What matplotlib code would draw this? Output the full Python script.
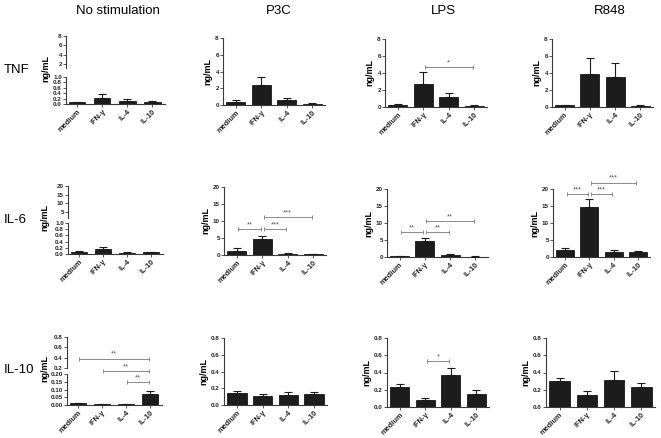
import numpy as np
import matplotlib
matplotlib.use("Agg")
import matplotlib.pyplot as plt

plt.rcParams["font.family"] = ["Liberation Sans", "DejaVu Sans"]

categories = ["medium", "IFN-γ", "IL-4", "IL-10"]
stimuli = ["No stimulation", "P3C", "LPS", "R848"]
cytokines = ["TNF", "IL-6", "IL-10"]

# mean (ng/mL) and upper SEM, one list per stimulation
tnf_mean = [[0.06, 0.22, 0.12, 0.08], [0.40, 2.36, 0.60, 0.16],
            [0.28, 2.65, 1.15, 0.16], [0.20, 3.86, 3.54, 0.12]]
tnf_err = [[0.02, 0.14, 0.06, 0.04], [0.20, 1.04, 0.20, 0.08],
           [0.08, 1.50, 0.47, 0.08], [0.08, 1.90, 1.58, 0.08]]

il6_mean = [[0.08, 0.16, 0.04, 0.05], [1.27, 4.70, 0.40, 0.30],
            [0.30, 4.60, 0.60, 0.10], [2.06, 14.6, 1.57, 1.47]]
il6_err = [[0.02, 0.05, 0.01, 0.01], [0.70, 1.00, 0.20, 0.10],
           [0.10, 1.10, 0.20, 0.10], [0.70, 2.40, 0.40, 0.20]]

il10_mean = [[0.011, 0.006, 0.006, 0.069], [0.142, 0.102, 0.114, 0.130],
             [0.234, 0.078, 0.367, 0.156], [0.300, 0.140, 0.316, 0.227]]
il10_err = [[0.004, 0.002, 0.002, 0.023], [0.024, 0.028, 0.036, 0.020],
            [0.032, 0.022, 0.090, 0.039], [0.040, 0.047, 0.098, 0.053]]

# significance brackets: (row, col, from, to, height, stars)
sig = [
    (0, 2, 1, 3, 4.75, "*"),
    (1, 1, 0, 1, 7.75, "**"), (1, 1, 1, 2, 7.75, "***"), (1, 1, 1, 3, 11.1, "***"),
    (1, 2, 0, 1, 7.3, "**"), (1, 2, 1, 2, 7.3, "**"), (1, 2, 1, 3, 10.6, "**"),
    (1, 3, 0, 1, 18.4, "***"), (1, 3, 1, 2, 18.4, "***"), (1, 3, 1, 3, 21.9, "***"),
    (2, 0, 0, 3, 0.30, "**"), (2, 0, 1, 3, 0.22, "**"), (2, 0, 2, 3, 0.15, "**"),
    (2, 2, 1, 2, 0.53, "*"),
]

means = [tnf_mean, il6_mean, il10_mean]
errs = [tnf_err, il6_err, il10_err]

# axis ranges and ticks per row (full scale panels)
full_ylim = [8, 20, 0.8]
full_ticks = [[0, 2, 4, 6, 8], [0, 5, 10, 15, 20], [0, 0.2, 0.4, 0.6, 0.8]]
full_fmt = ["{:g}", "{:g}", "{:.1f}"]
# broken axes of the first column: lower part and upper part
low_ylim = [1.0, 1.0, 0.2]
low_ticks = [np.arange(0, 1.01, 0.2), np.arange(0, 1.01, 0.2), np.arange(0, 0.201, 0.05)]
low_fmt = ["{:.1f}", "{:.1f}", "{:.2f}"]
up_ylim = [(1.2, 8), (1.5, 20), (0.2, 0.8)]
up_ticks = [[2, 4, 6, 8], [5, 10, 15, 20], [0.2, 0.4, 0.6, 0.8]]
up_fmt = ["{:g}", "{:g}", "{:.1f}"]

W, H = 661, 438
fig = plt.figure(figsize=(W / 100, H / 100), dpi=100)

# layout in pixels: x range per panel, y range (top, bottom)
xpos = [[(66, 165), (223, 325), (385, 487), (552, 653)],
        [(68, 163), (224, 326), (387, 488), (553, 650)],
        [(67, 162), (224, 327), (387, 489), (546, 655)]]
ypos = [[(38, 105), (39, 107), (39, 107)],
        [(187, 255), (189, 257), (189, 257)],
        [(338, 405), (338, 407), (338, 407)]]
broken = [((36, 68), (77, 104)), ((186, 218), (223, 254)), ((337, 368), (374, 405))]
label_off = [20, 23, 22]

dark = "#1c1c1c"
spine_c = "#3a3a3a"
gray = "#8a8a8a"


def add_ax(x, y):
    return fig.add_axes([x[0] / W, 1 - y[1] / H, (x[1] - x[0]) / W, (y[1] - y[0]) / H])


def style(ax, bottom=True):
    for s in ["top", "right"]:
        ax.spines[s].set_visible(False)
    ax.spines["left"].set_color(spine_c)
    ax.spines["left"].set_linewidth(0.8)
    if bottom:
        ax.spines["bottom"].set_color(spine_c)
        ax.spines["bottom"].set_linewidth(0.8)
    else:
        ax.spines["bottom"].set_visible(False)
    ax.tick_params(length=2, width=0.6, color=spine_c, pad=1)


def set_yticks(ax, ticks, fmt):
    ax.set_yticks(ticks)
    ax.set_yticklabels([fmt.format(t) for t in ticks], fontsize=4.5,
                       fontweight="bold", color="#222222")


def draw_bars(ax, m, e, width):
    x = np.arange(len(categories))
    ax.bar(x, m, width=width, color=dark, edgecolor="black", linewidth=0.5, zorder=2)
    ax.errorbar(x, m, yerr=[np.zeros(len(e)), e], fmt="none", ecolor=dark,
                elinewidth=0.8, capsize=2.8, capthick=0.8, zorder=3)
    ax.set_xticks(x)
    ax.set_xticklabels(categories, rotation=45, ha="right", rotation_mode="anchor",
                       fontsize=5.3, fontweight="bold", color="#222222")


panel_ax = {}
for r in range(3):
    for c in range(4):
        m, e = means[r][c], errs[r][c]
        if c == 0:
            (ut, ub), (lt, lb) = broken[r]
            x = xpos[r][0]
            up = add_ax(x, (ut, ub))
            low = add_ax(x, (lt, lb))
            style(up, bottom=False)
            style(low)
            draw_bars(low, m, e, 0.65)
            low.set_ylim(0, low_ylim[r])
            set_yticks(low, low_ticks[r], low_fmt[r])
            up.set_ylim(*up_ylim[r])
            set_yticks(up, up_ticks[r], up_fmt[r])
            up.set_xticks([])
            up.set_xlim(-0.45, 3.5)
            low.set_xlim(-0.45, 3.5)
            fig.text((x[0] - label_off[r]) / W, 1 - ((ut + lb) / 2 - 2) / H, "ng/mL",
                     rotation=90, ha="center", va="center", fontsize=6.5,
                     fontweight="bold")
            panel_ax[(r, c)] = low
        else:
            ax = add_ax(xpos[r][c], ypos[r][c - 1])
            style(ax)
            draw_bars(ax, m, e, 0.75)
            ax.set_xlim(-0.5, 3.5)
            ax.set_ylim(0, full_ylim[r])
            set_yticks(ax, full_ticks[r], full_fmt[r])
            ax.set_ylabel("ng/mL", fontsize=6.5, fontweight="bold", labelpad=2)
            panel_ax[(r, c)] = ax

for r, c, i, j, y, txt in sig:
    ax = panel_ax[(r, c)]
    ax.plot([i + 0.06, j - 0.06], [y, y], color=gray, lw=0.7, marker="|",
            markersize=3.5, markeredgewidth=0.7, clip_on=False, zorder=4)
    ax.annotate(txt, xy=((i + j) / 2, y), xytext=(0, 0.5), textcoords="offset points",
                ha="center", va="bottom", fontsize=5.3, color="#555555",
                annotation_clip=False)

# column titles and row labels
title_x = [118, 279, 443, 610]
for name, tx in zip(stimuli, title_x):
    fig.text(tx / W, 1 - 11 / H, name, ha="center", va="center", fontsize=9.5)

row_y = [70, 220, 370]
for name, ry in zip(cytokines, row_y):
    fig.text(4 / W, 1 - ry / H, name, ha="left", va="center", fontsize=9.5)

fig.savefig("out.png", dpi=100)
